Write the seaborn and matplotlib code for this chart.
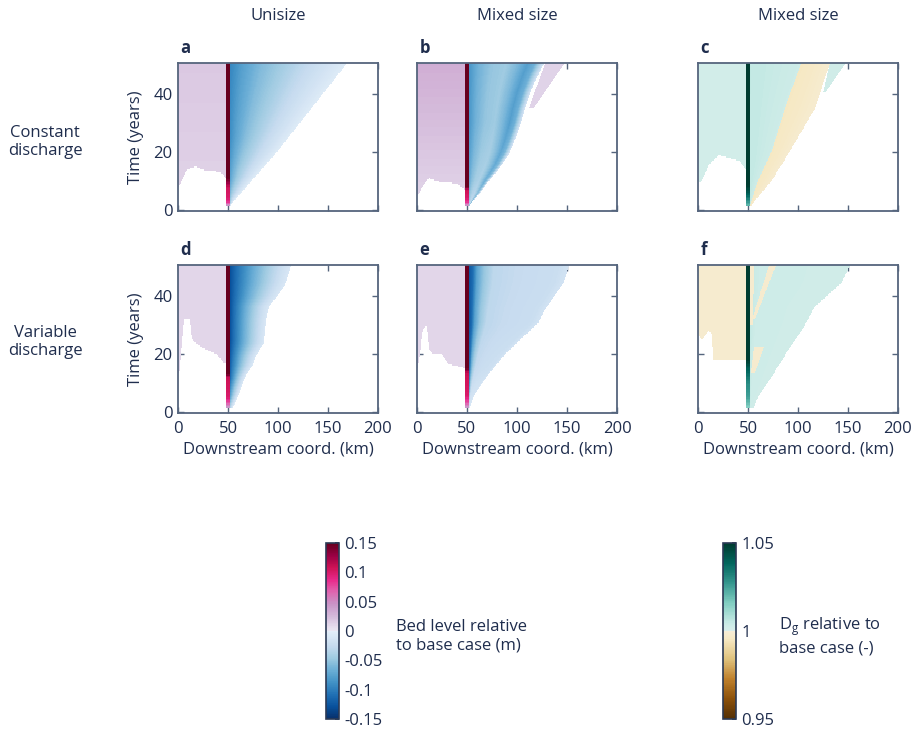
import numpy as np
import matplotlib
matplotlib.use("Agg")
import matplotlib.pyplot as plt
import seaborn as sns
from matplotlib.colors import ListedColormap, Normalize
from matplotlib.cm import ScalarMappable

# ---------------- data ----------------
COL_TITLES = ["Unisize", "Mixed size", "Mixed size"]
ROW_TITLES = ["Constant\ndischarge", "Variable\ndischarge"]
PANEL_LETTERS = ["a", "b", "c", "d", "e", "f"]
X_TICKS = [0, 50, 100, 150, 200]
Y_TICKS = [0, 20, 40]
BED_TICKS = [-0.15, -0.1, -0.05, 0, 0.05, 0.1, 0.15]
BED_TICKLABELS = ["-0.15", "-0.1", "-0.05", "0", "0.05", "0.1", "0.15"]
DG_TICKS = [0.95, 1.0, 1.05]
DG_TICKLABELS = ["0.95", "1", "1.05"]

# model grid: 1 km cells, half-year rows
x_km = np.arange(200) + 0.5
t_yr = np.arange(101) * 0.5 + 0.25
COL_X0, COL_X1 = 48, 52   # knickpoint / nourishment column (km)

# panel a  (unisize, constant discharge) - bed level (m)
A_UP_X = [0, 3, 8, 13, 18, 28, 42, 47, 48]
A_UP_T = [8, 9.5, 13.4, 14.6, 14.9, 13.4, 13.2, 11.5, 11]
A_UP_TV = [8, 50.5]
A_UP_V = [0.013, 0.018]
A_COL_T = [1.5, 2.5, 4, 7.5, 9.5, 11, 50.5]
A_COL_V = [0.04, 0.08, 0.1, 0.105, 0.13, 0.15, 0.15]
A_FR_T = [1.5, 20, 50.5]
A_FR_X = [52, 99, 169]
A_PR_R = [0, 0.1, 0.27, 0.64, 1]
A_PR_V = [-0.095, -0.078, -0.058, -0.028, -0.005]
A_AMP_T = [1.5, 10, 25, 50.5]
A_AMP_F = [0.5, 0.8, 0.95, 1]

# panel b  (mixed size, constant discharge) - bed level (m)
B_UP_X = [0, 2, 5, 12, 22, 32, 40, 45, 48]
B_UP_T = [5, 5.5, 8, 10.9, 9.7, 9.4, 9, 7.7, 7]
B_UP_TV = [5, 50.5]
B_UP_V = [0.012, 0.032]
B_COL_T = [1.5, 2.5, 4, 7, 8, 50.5]
B_COL_V = [0.04, 0.08, 0.1, 0.11, 0.15, 0.15]
B_FR_T = [1.5, 5, 10, 15, 20, 25, 30, 35, 40, 45, 50.5]
B_FR_X = [52, 61, 72, 84, 93, 99, 104, 108, 113, 119, 127]
B_PR_R = [0, 0.12, 0.3, 0.5, 0.65, 0.78, 0.88, 0.95, 1]
B_PR_V = [-0.085, -0.065, -0.05, -0.045, -0.06, -0.078, -0.065, -0.035, -0.015]
B_AMP_T = [1.5, 10, 30, 50.5]
B_AMP_F = [0.6, 0.85, 1, 1]
B_PATCH_T = [35, 50.5]
B_PATCH_X0 = [112, 128]
B_PATCH_X1 = [117, 148]
B_PATCH_V = 0.012

# panel c  (mixed size, constant discharge) - Dg relative (-)
C_UP_X = [0, 3, 11, 21, 31, 42, 47, 48]
C_UP_T = [10, 9.4, 15.7, 19, 18, 16.8, 14.5, 14]
C_UP_TV = [9, 50.5]
C_UP_V = [1.002, 1.002]
C_COL_T = [1.5, 3, 5, 8.5, 50.5]
C_COL_V = [1.02, 1.028, 1.038, 1.05, 1.05]
C_BAND_T = [1.5, 10, 20, 35, 50.5]
C_BAND_X = [52, 60, 73.5, 87, 103]
C_FR_T = [1.5, 10, 20, 35, 50.5]
C_FR_X = [53, 73.5, 91.5, 117, 132]
C_PR_R = [0, 1]
C_PR_V = [1.0055, 1.003]
C_BAND_R = [0, 0.5, 1]
C_BAND_V = [0.9955, 0.9965, 0.998]
C_PATCH_T = [40.5, 50.5]
C_PATCH_X0 = [125, 132]
C_PATCH_X1 = [128, 147]
C_PATCH_V = 1.0025

# panel d  (unisize, variable discharge) - bed level (m)
D_UP_X = [0, 1.5, 6, 12, 14, 18.6, 25, 32, 39, 45.6, 48]
D_UP_T = [13, 14, 32, 32, 25, 23.6, 22, 21, 19.8, 17, 16.7]
D_UP_TV = [13, 50.5]
D_UP_V = [0.011, 0.011]
D_COL_T = [1.5, 3, 5, 12, 13, 50.5]
D_COL_V = [0.04, 0.07, 0.1, 0.11, 0.15, 0.15]
D_FR_T = [1.5, 4.3, 7.7, 12.3, 15.8, 19.3, 23.9, 31.4, 36.5, 40, 44.6, 50.5]
D_FR_X = [55, 59, 62.5, 67.6, 74, 78, 86, 88, 91, 100, 108, 113]
D_PR_R = [0, 0.1, 0.4, 0.7, 0.9, 1]
D_PR_V = [-0.13, -0.11, -0.067, -0.035, -0.017, -0.01]
D_AMP_T = [1.5, 5, 12, 25, 50.5]
D_AMP_F = [0.3, 0.6, 0.9, 1, 1]

# panel e  (mixed size, variable discharge) - bed level (m)
E_UP_X = [0, 3, 5, 8, 10, 12, 15, 25, 30, 33, 47, 48]
E_UP_T = [14, 20, 27, 29.6, 29.6, 22, 20, 19.8, 17, 16.4, 15.2, 15]
E_UP_TV = [14, 50.5]
E_UP_V = [0.011, 0.011]
E_COL_T = [1.5, 3, 5.5, 13.5, 15, 50.5]
E_COL_V = [0.04, 0.07, 0.1, 0.11, 0.15, 0.15]
E_FR_T = [1.4, 5.4, 10, 15.8, 19.8, 26, 30.8, 35.4, 40, 44.6, 50.5]
E_FR_X = [53, 56.7, 65, 78, 88, 106.7, 121.7, 128, 138, 146.7, 152]
E_PR_R = [0, 0.04, 0.08, 0.15, 0.25, 0.5, 0.9, 1]
E_PR_V = [-0.125, -0.11, -0.075, -0.05, -0.03, -0.025, -0.022, -0.015]
E_AMP_T = [1.5, 5, 15, 30, 50.5]
E_AMP_F = [0.4, 0.6, 0.9, 1, 1]

# panel f  (mixed size, variable discharge) - Dg relative (-)
F_UP_X = [0, 4, 10, 14, 15, 48]
F_UP_T = [27, 25, 28, 27, 18, 18]
F_UP_TV = [18, 50.5]
F_UP_V = [0.998, 0.998]
F_COL_T = [1.5, 5, 10, 15, 18, 50.5]
F_COL_V = [1.015, 1.025, 1.03, 1.04, 1.05, 1.05]
F_FR_T = [1.4, 5.4, 10, 14.6, 19.3, 26, 31.4, 36, 40, 44.6, 50.5]
F_FR_X = [55.5, 60.5, 70, 78, 86.6, 99.7, 109.5, 116, 129, 143.8, 152]
F_PR_R = [0, 0.1, 1]
F_PR_V = [1.005, 1.003, 1.0025]
# cream streaks downstream: (t0, t1, x0 bottom, x1 bottom, x0 top, x1 top, value)
F_STREAKS = [(30, 50.5, 52, 55, 52, 56, 0.998),
             (32, 50.5, 54, 57, 71, 78, 0.998),
             (13.5, 22.5, 53, 57, 56, 66, 0.998)]


# ---------------- field assembly ----------------
def build(up_x, up_t, up_tv, up_v, col_t, col_v, fr_t, fr_x, pr_r, pr_v,
          amp_t=None, amp_f=None, base=0.0, band=None, patch=None, streaks=()):
    X, T = np.meshgrid(x_km, t_yr)
    Z = np.full(X.shape, np.nan)
    m = (X < COL_X0) & (T >= np.interp(X, up_x, up_t))
    Z[m] = np.interp(T[m], up_tv, up_v)
    m = (X >= COL_X0) & (X < COL_X1) & (T >= col_t[0])
    Z[m] = np.interp(T[m], col_t, col_v)
    xf = np.interp(T, fr_t, fr_x)
    inside = (X >= COL_X1) & (X < xf) & (T >= fr_t[0])
    amp = np.ones_like(T) if amp_t is None else np.interp(T, amp_t, amp_f)
    if band is None:
        r = (X - COL_X1) / np.maximum(xf - COL_X1, 1e-6)
        Z[inside] = base + (np.interp(r[inside], pr_r, pr_v) - base) * amp[inside]
    else:
        bt, bx, br, bv = band
        xb = np.interp(T, bt, bx)
        aq = inside & (X < xb)
        r = (X - COL_X1) / np.maximum(xb - COL_X1, 1e-6)
        Z[aq] = np.interp(r[aq], pr_r, pr_v)
        cr = inside & (X >= xb)
        r2 = (X - xb) / np.maximum(xf - xb, 1e-6)
        Z[cr] = np.interp(r2[cr], br, bv)
    if patch is not None:
        pt, p0, p1, pv = patch
        m = (T >= pt[0]) & (X >= np.interp(T, pt, p0)) & (X < np.interp(T, pt, p1))
        Z[m] = pv
    for (t0, t1, x0b, x1b, x0t, x1t, v) in streaks:
        f = np.clip((T - t0) / (t1 - t0), 0, 1)
        m = (T >= t0) & (T <= t1) & (X >= x0b + f * (x0t - x0b)) & \
            (X < x1b + f * (x1t - x1b)) & ~np.isnan(Z) & (X >= COL_X1)
        Z[m] = v
    return Z


Z_a = build(A_UP_X, A_UP_T, A_UP_TV, A_UP_V, A_COL_T, A_COL_V, A_FR_T, A_FR_X,
            A_PR_R, A_PR_V, A_AMP_T, A_AMP_F)
Z_b = build(B_UP_X, B_UP_T, B_UP_TV, B_UP_V, B_COL_T, B_COL_V, B_FR_T, B_FR_X,
            B_PR_R, B_PR_V, B_AMP_T, B_AMP_F,
            patch=(B_PATCH_T, B_PATCH_X0, B_PATCH_X1, B_PATCH_V))
Z_c = build(C_UP_X, C_UP_T, C_UP_TV, C_UP_V, C_COL_T, C_COL_V, C_FR_T, C_FR_X,
            C_PR_R, C_PR_V, base=1.0,
            band=(C_BAND_T, C_BAND_X, C_BAND_R, C_BAND_V),
            patch=(C_PATCH_T, C_PATCH_X0, C_PATCH_X1, C_PATCH_V))
Z_d = build(D_UP_X, D_UP_T, D_UP_TV, D_UP_V, D_COL_T, D_COL_V, D_FR_T, D_FR_X,
            D_PR_R, D_PR_V, D_AMP_T, D_AMP_F)
Z_e = build(E_UP_X, E_UP_T, E_UP_TV, E_UP_V, E_COL_T, E_COL_V, E_FR_T, E_FR_X,
            E_PR_R, E_PR_V, E_AMP_T, E_AMP_F)
Z_f = build(F_UP_X, F_UP_T, F_UP_TV, F_UP_V, F_COL_T, F_COL_V, F_FR_T, F_FR_X,
            F_PR_R, F_PR_V, base=1.0, streaks=F_STREAKS)

# ---------------- styling ----------------
sns.set_theme(style="white")
plt.rcParams["font.family"] = ["Open Sans", "DejaVu Sans"]
plt.rcParams["mathtext.fontset"] = "custom"
plt.rcParams["mathtext.rm"] = "Open Sans"
TXT = "#1f2d4d"
SPINE = "#55657d"
FS = 12

blues = plt.get_cmap("Blues")(np.linspace(1.0, 0.1, 128))
purd = plt.get_cmap("PuRd")(np.linspace(0.1, 1.0, 128))
cmap_bed = ListedColormap(np.vstack([blues, purd]))
brbg = plt.get_cmap("BrBG")
cmap_dg = ListedColormap(np.vstack([brbg(np.linspace(0.0, 0.44, 128)),
                                    brbg(np.linspace(0.56, 1.0, 128))]))

fig = plt.figure(figsize=(9.15, 7.29), dpi=100)
W, H = 915.0, 729.0
lefts = [178, 417, 698]
tops = [63, 265]
aw, ah = 200, 148

fields = [[Z_a, Z_b, Z_c], [Z_d, Z_e, Z_f]]
for ri in range(2):
    for ci in range(3):
        ax = fig.add_axes([lefts[ci] / W, 1 - (tops[ri] + ah) / H, aw / W, ah / H])
        if ci < 2:
            cm, lo, hi = cmap_bed, -0.15, 0.15
        else:
            cm, lo, hi = cmap_dg, 0.95, 1.05
        sns.heatmap(fields[ri][ci], ax=ax, cmap=cm, vmin=lo, vmax=hi, cbar=False,
                    xticklabels=False, yticklabels=False)
        ax.set_xlim(0, 200)
        ax.set_ylim(-0.35 / 0.5, 50.6 / 0.5)
        ax.set_xticks(X_TICKS)
        ax.set_yticks([t / 0.5 for t in Y_TICKS])
        ax.set_xticklabels([str(v) for v in X_TICKS] if ri == 1 else [])
        ax.set_yticklabels([str(v) for v in Y_TICKS] if ci == 0 else [], rotation=0)
        for sp in ax.spines.values():
            sp.set_visible(True)
            sp.set_color(SPINE)
            sp.set_linewidth(1.3)
        ax.tick_params(direction="in", length=4, width=1.0, top=True, right=True,
                       bottom=True, left=True, color=SPINE, labelcolor=TXT,
                       labelsize=FS, pad=4)
        ax.tick_params(axis="x", pad=6)
        if ci == 0:
            ax.set_ylabel("Time (years)", fontsize=FS, color=TXT)
            ax.yaxis.set_label_coords(-0.17, 0.5)
        if ri == 1:
            ax.set_xlabel("Downstream coord. (km)", fontsize=FS, color=TXT)
            ax.xaxis.set_label_coords(0.5, -0.19)
        ax.text(0.012, 1.04, PANEL_LETTERS[ri * 3 + ci], transform=ax.transAxes,
                fontsize=FS, fontweight="bold", color=TXT, ha="left", va="bottom")

for ci, title in enumerate(COL_TITLES):
    fig.text((lefts[ci] + aw / 2) / W, 1 - 16 / H, title, fontsize=FS,
             color=TXT, ha="center", va="center")
fig.text(45 / W, 1 - 142 / H, ROW_TITLES[0], fontsize=FS, color=TXT,
         ha="center", va="center", linespacing=1.2)
fig.text(45 / W, 1 - 342 / H, ROW_TITLES[1], fontsize=FS, color=TXT,
         ha="center", va="center", linespacing=1.2)

# colorbars
def add_cbar(left, cmap, lo, hi, ticks, labels, label, lx):
    cax = fig.add_axes([left / W, 1 - 719 / H, 13 / W, 176 / H])
    sm = ScalarMappable(norm=Normalize(lo, hi), cmap=cmap)
    cb = fig.colorbar(sm, cax=cax, orientation="vertical")
    cb.set_ticks(ticks)
    cb.set_ticklabels(labels)
    cb.outline.set_edgecolor("#2b3a55")
    cb.outline.set_linewidth(1.2)
    cax.tick_params(direction="in", length=3, color="#2b3a55", labelcolor=TXT,
                    labelsize=FS, pad=4)
    fig.text(lx / W, 1 - 636 / H, label, fontsize=FS, color=TXT, ha="left",
             va="center", linespacing=1.2)

add_cbar(326, cmap_bed, -0.15, 0.15, BED_TICKS, BED_TICKLABELS,
         "Bed level relative\nto base case (m)", 396)
add_cbar(723, cmap_dg, 0.95, 1.05, DG_TICKS, DG_TICKLABELS,
         "D$_\\mathregular{g}$ relative to\nbase case (-)", 779)

fig.savefig("out.png", dpi=100)
